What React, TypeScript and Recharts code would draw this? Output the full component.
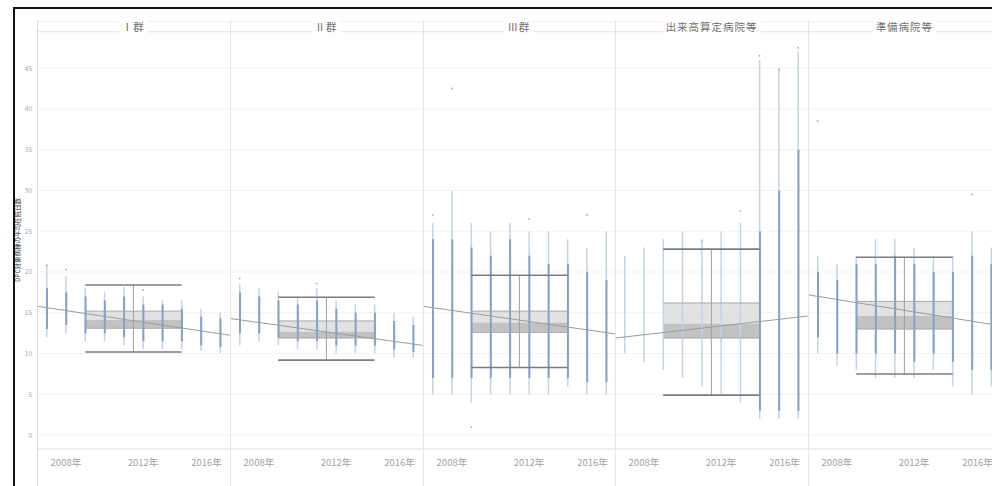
import React from 'react';
import {
  ComposedChart,
  Bar,
  Scatter,
  XAxis,
  YAxis,
  CartesianGrid,
  ReferenceArea,
  ReferenceLine
} from 'recharts';

const years = [2007, 2008, 2009, 2010, 2011, 2012, 2013, 2014, 2015, 2016];
const groups = ['Ⅰ群', 'Ⅱ群', 'Ⅲ群', '出来高算定病院等', '準備病院等'];
const xTicks = [2008, 2012, 2016];
const yTicks = [0, 5, 10, 15, 20, 25, 30, 35, 40, 45];

// dense part of each year's strip of hospitals (one row per group)
const coreLow = [
  [13.0, 13.5, 12.5, 12.5, 12.0, 11.5, 11.5, 11.5, 11.0, 10.8],
  [12.5, 12.5, 12.0, 11.5, 11.5, 11.0, 11.0, 11.0, 10.5, 10.2],
  [7, 7, 7, 7, 7, 7, 7, 7, 6.5, 6.5],
  [null, null, null, null, null, null, null, 3, 3, 3],
  [12, 10, 10, 10, 10, 9, 10, 9, 8, 8]
];
const coreHigh = [
  [18.0, 17.5, 17.0, 16.5, 17.0, 16.0, 16.0, 15.5, 14.5, 14.3],
  [17.5, 17.0, 16.5, 16.0, 16.5, 15.5, 15.0, 15.0, 14.0, 13.5],
  [24, 24, 23, 22, 24, 22, 21, 21, 20, 19],
  [null, null, null, null, null, null, null, 25, 30, 35],
  [20, 19, 21, 21, 22, 21, 20, 20, 22, 21]
];
// sparse tails of each strip
const outerLow = [
  [12.0, 12.5, 11.5, 11.5, 11.0, 10.5, 10.5, 10.5, 10.3, 10.0],
  [11.0, 11.5, 11.0, 10.5, 10.5, 10.0, 10.0, 10.0, 9.5, 9.5],
  [5, 5, 4, 5, 5, 5, 5, 6, 5, 5],
  [10, 9, 8, 7, 6, 5, 4, 2, 2, 2],
  [10, 8.5, 8, 7, 7, 7, 8, 6, 5, 6]
];
const outerHigh = [
  [21.0, 19.5, 18.0, 17.5, 18.2, 17.0, 16.5, 16.5, 15.5, 15.0],
  [18.5, 18.0, 17.5, 17.0, 18.0, 16.5, 16.0, 16.0, 15.0, 14.5],
  [26, 30, 26, 25, 26, 25, 25, 24, 23, 25],
  [22, 23, 24, 25, 24, 25, 26, 46, 45, 47],
  [22, 21, 22, 24, 24, 23, 22, 22, 25, 23]
];
const outliers = [
  [[2007, 20.8], [2008, 20.3], [2012, 17.8]],
  [[2007, 19.2], [2011, 18.6]],
  [[2008, 42.5], [2009, 1.0], [2007, 27.0], [2012, 26.5], [2015, 27.0]],
  [[2014, 46.5], [2015, 44.8], [2016, 47.5], [2013, 27.5], [2011, 23.8]],
  [[2007, 38.5], [2015, 29.5]]
];

// box plot per group
const boxFrom = 2009;
const boxTo = 2014;
const whiskerHigh = [18.4, 16.9, 19.6, 22.8, 21.8];
const boxQ3 = [15.2, 14.0, 15.2, 16.2, 16.4];
const boxMedian = [14.1, 12.7, 13.8, 13.7, 14.6];
const boxQ1 = [13.1, 11.9, 12.6, 11.9, 13.0];
const whiskerLow = [10.2, 9.2, 8.3, 4.9, 7.5];

// trend line at the panel edges
const trendFrom = [15.8, 14.3, 15.8, 11.9, 17.2];
const trendTo = [12.25, 11.0, 12.4, 14.6, 13.4];

const X_DOMAIN = [2006.5, 2016.5];
const Y_DOMAIN = [-1.7, 49.3];
const PANEL_W = 192.75;
const AXIS_W = 37;
const H = 486;
const TOP = 33;
const AXIS_H = H - 449;
const FONT = '"Noto Sans CJK JP", "Noto Sans", sans-serif';

const XTick = (props: any) => {
  const { x, y, payload } = props;
  const last = payload.value === 2016;
  return (
    <text
      x={last ? x + 8 : x}
      y={y + 9}
      textAnchor={last ? 'end' : 'middle'}
      fontSize={9.5}
      fill="#a3a3a3"
      fontFamily={FONT}
    >
      {payload.value}年
    </text>
  );
};

const YTick = (props: any) => {
  const { x, y, payload } = props;
  return (
    <text x={x} y={y + 2.5} textAnchor="end" fontSize={6.5} fill="#a8a8a8" fontFamily={FONT}>
      {payload.value}
    </text>
  );
};

const Dot = (props: any) => (
  <circle cx={props.cx} cy={props.cy} r={1} fill="#a9bbd3" />
);

const Panel = ({ g, left }: { g: number; left: number }) => {
  const rows = years.map((year, i) => ({
    year,
    core: coreLow[g][i] == null ? null : [coreLow[g][i], coreHigh[g][i]],
    outer: [outerLow[g][i], outerHigh[g][i]]
  }));
  const pts = outliers[g].map(([year, value]) => ({ year, value }));
  const withAxis = g === 0;
  const mid = (boxFrom + boxTo) / 2;
  return (
    <div style={{ position: 'absolute', left, top: 0 }}>
      <ComposedChart
        width={PANEL_W + (withAxis ? AXIS_W : 0)}
        height={H}
        data={rows}
        margin={{ top: TOP, right: 0, bottom: 0, left: 0 }}
      >
        <CartesianGrid vertical={false} stroke="#f3f3f3" />
        <XAxis
          dataKey="year"
          type="number"
          domain={X_DOMAIN}
          ticks={xTicks}
          tick={<XTick />}
          tickLine={false}
          axisLine={{ stroke: '#e4e4e4' }}
          height={AXIS_H}
          allowDataOverflow
        />
        <XAxis xAxisId="core" dataKey="year" type="number" domain={X_DOMAIN} hide allowDataOverflow />
        <YAxis
          type="number"
          domain={Y_DOMAIN}
          ticks={yTicks}
          hide={!withAxis}
          width={AXIS_W}
          tickLine={false}
          axisLine={false}
          tickSize={0}
          tickMargin={5}
          tick={<YTick />}
          allowDataOverflow
        />
        <Bar dataKey="outer" barSize={1.5} fill="#c6d3e4" isAnimationActive={false} />
        <Bar dataKey="core" xAxisId="core" barSize={2} fill="#86a1c6" isAnimationActive={false} />
        <Scatter data={pts} dataKey="value" shape={<Dot />} isAnimationActive={false} />
        <ReferenceLine
          segment={[{ x: mid, y: whiskerLow[g] }, { x: mid, y: whiskerHigh[g] }]}
          stroke="#a0a0a0"
          strokeWidth={1}
        />
        <ReferenceArea x1={boxFrom} x2={boxTo} y1={boxQ1[g]} y2={boxMedian[g]} fill="#a8a8a8" fillOpacity={0.7} stroke="none" />
        <ReferenceArea x1={boxFrom} x2={boxTo} y1={boxMedian[g]} y2={boxQ3[g]} fill="#d6d6d6" fillOpacity={0.7} stroke="none" />
        <ReferenceLine segment={[{ x: boxFrom, y: boxQ3[g] }, { x: boxTo, y: boxQ3[g] }]} stroke="#a8a8a8" />
        <ReferenceLine segment={[{ x: boxFrom, y: boxQ1[g] }, { x: boxTo, y: boxQ1[g] }]} stroke="#a8a8a8" />
        <ReferenceLine segment={[{ x: boxFrom, y: whiskerHigh[g] }, { x: boxTo, y: whiskerHigh[g] }]} stroke="#7c7c7c" strokeWidth={1.6} />
        <ReferenceLine segment={[{ x: boxFrom, y: whiskerLow[g] }, { x: boxTo, y: whiskerLow[g] }]} stroke="#7c7c7c" strokeWidth={1.6} />
        <ReferenceLine
          segment={[{ x: X_DOMAIN[0], y: trendFrom[g] }, { x: X_DOMAIN[1], y: trendTo[g] }]}
          stroke="#9c9c9c"
          strokeWidth={1}
        />
      </ComposedChart>
    </div>
  );
};

export default function App() {
  const edges = groups.map((_, i) => AXIS_W + i * PANEL_W);
  return (
    <div
      style={{
        position: 'fixed',
        left: 0,
        top: 0,
        width: 992,
        height: H,
        overflow: 'hidden',
        background: '#fff',
        fontFamily: FONT
      }}
    >
      {groups.map((name, i) => (
        <Panel key={name} g={i} left={i === 0 ? 0 : edges[i]} />
      ))}
      {/* facet frame */}
      <div style={{ position: 'absolute', left: AXIS_W, top: 21, width: 992, height: 1, background: '#f0f0f0' }} />
      <div style={{ position: 'absolute', left: AXIS_W, top: 31, width: 992, height: 1, background: '#e8e8e8' }} />
      {edges.map((x, i) => (
        <div
          key={i}
          style={{ position: 'absolute', left: x, top: 20, width: 1, height: H - 20, background: i === 0 ? '#dcdcdc' : '#e6e6e6' }}
        />
      ))}
      {groups.map((name, i) => (
        <div
          key={name}
          style={{
            position: 'absolute',
            left: edges[i],
            width: PANEL_W,
            top: 20,
            textAlign: 'center',
            fontSize: 10.5,
            lineHeight: '14px',
            color: '#707070'
          }}
        >
          <span style={{ background: '#fff', padding: '0 3px', letterSpacing: 1 }}>{name}</span>
        </div>
      ))}
      <div
        style={{
          position: 'absolute',
          left: 17,
          top: 240,
          transform: 'translate(-50%, -50%) rotate(-90deg)',
          whiteSpace: 'nowrap',
          fontSize: 6.5,
          color: '#333'
        }}
      >
        DPC対象病棟の平均在院日数
      </div>
      <div style={{ position: 'absolute', left: 13, top: 7, width: 992, height: 2, background: '#111' }} />
      <div style={{ position: 'absolute', left: 13, top: 7, width: 2, height: H, background: '#111' }} />
    </div>
  );
}
